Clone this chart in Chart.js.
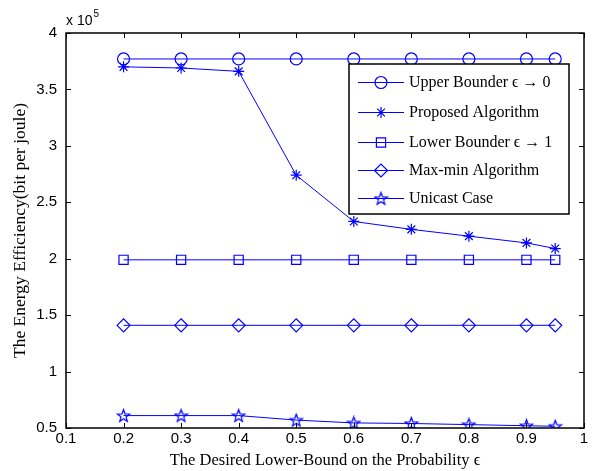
<!DOCTYPE html>
<html>
<head>
<meta charset="utf-8">
<script src="https://cdn.jsdelivr.net/npm/chart.js@4/dist/chart.umd.min.js"></script>
<style>
  html, body { margin: 0; padding: 0; background: #fff; }
  #wrap { width: 593px; height: 471px; }
</style>
</head>
<body>
<div id="wrap"><canvas id="myChart" width="593" height="471"></canvas></div>
<script>
const xValues = [0.2, 0.3, 0.4, 0.5, 0.6, 0.7, 0.8, 0.9, 0.95];
const upperBound = [3.77e5, 3.77e5, 3.77e5, 3.77e5, 3.77e5, 3.77e5, 3.77e5, 3.77e5, 3.77e5];
const proposed = [3.70e5, 3.69e5, 3.66e5, 2.74e5, 2.33e5, 2.26e5, 2.20e5, 2.14e5, 2.09e5];
const lowerBound = [1.99e5, 1.99e5, 1.99e5, 1.99e5, 1.99e5, 1.99e5, 1.99e5, 1.99e5, 1.99e5];
const maxMin = [1.41e5, 1.41e5, 1.41e5, 1.41e5, 1.41e5, 1.41e5, 1.41e5, 1.41e5, 1.41e5];
const unicast = [0.61e5, 0.61e5, 0.61e5, 0.57e5, 0.545e5, 0.54e5, 0.53e5, 0.52e5, 0.515e5];
const seriesNames = ["Upper Bounder \u03f5 \u2192 0", "Proposed Algorithm", "Lower Bounder \u03f5 \u2192 1", "Max-min Algorithm", "Unicast Case"];
const xTicks = [0.1, 0.2, 0.3, 0.4, 0.5, 0.6, 0.7, 0.8, 0.9, 1];
const yTicks = [0.5e5, 1e5, 1.5e5, 2e5, 2.5e5, 3e5, 3.5e5, 4e5];

const blue = "#0000ff";
const serif = "'Liberation Serif', 'DejaVu Serif', serif";
const sans = "'Liberation Sans', Arial, sans-serif";

// pentagram marker (matlab 'p')
function makeStar() {
    const c = document.createElement("canvas");
    c.width = 15; c.height = 15;
    const g = c.getContext("2d");
    g.strokeStyle = blue;
    g.lineWidth = 1.2;
    g.beginPath();
    for (let i = 0; i < 10; i++) {
        const r = i % 2 === 0 ? 6.5 : 2.7;
        const a = -Math.PI / 2 + i * Math.PI / 5;
        const px = 7.5 + r * Math.cos(a), py = 8 + r * Math.sin(a);
        if (i === 0) g.moveTo(px, py); else g.lineTo(px, py);
    }
    g.closePath();
    g.stroke();
    return c;
}
const starImg = makeStar();

const styles = [
    { pointStyle: "circle", radius: 6 },
    { pointStyle: "star", radius: 5.5 },
    { pointStyle: "rect", radius: 6.5 },
    { pointStyle: "rectRot", radius: 6.5 },
    { pointStyle: starImg, radius: 7 }
];
const allData = [upperBound, proposed, lowerBound, maxMin, unicast];

const datasets = allData.map(function (vals, i) {
    return {
        label: seriesNames[i],
        data: xValues.map(function (x, j) { return { x: x, y: vals[j] }; }),
        borderColor: blue,
        backgroundColor: "rgba(0,0,0,0)",
        borderWidth: 1,
        pointStyle: styles[i].pointStyle,
        pointRadius: styles[i].radius,
        pointBorderColor: blue,
        pointBackgroundColor: "rgba(0,0,0,0)",
        pointBorderWidth: 1.2,
        tension: 0
    };
});

// matlab style box, inward ticks, legend, exponent label
const matlabPlugin = {
    id: "matlab",
    afterDraw(chart) {
        const ctx = chart.ctx;
        const a = chart.chartArea;
        const xs = chart.scales.x, ys = chart.scales.y;
        ctx.save();
        ctx.strokeStyle = "#000";
        ctx.lineWidth = 1;
        xTicks.forEach(function (t) {
            const px = Math.round(xs.getPixelForValue(t)) + 0.5;
            ctx.beginPath();
            ctx.moveTo(px, a.bottom); ctx.lineTo(px, a.bottom - 5);
            ctx.moveTo(px, a.top); ctx.lineTo(px, a.top + 5);
            ctx.stroke();
        });
        yTicks.forEach(function (t) {
            const py = Math.round(ys.getPixelForValue(t)) + 0.5;
            ctx.beginPath();
            ctx.moveTo(a.left, py); ctx.lineTo(a.left + 5, py);
            ctx.moveTo(a.right, py); ctx.lineTo(a.right - 5, py);
            ctx.stroke();
        });
        ctx.lineWidth = 1.5;
        ctx.strokeRect(a.left, a.top, a.right - a.left, a.bottom - a.top);

        // exponent
        ctx.fillStyle = "#000";
        ctx.font = "14px " + sans;
        ctx.textBaseline = "alphabetic";
        ctx.textAlign = "left";
        const w = ctx.measureText("x 10").width;
        ctx.fillText("x 10", a.left, a.top - 8);
        ctx.font = "10px " + sans;
        ctx.fillText("5", a.left + w + 1, a.top - 16);

        // legend
        const bx = 349, by = 64, bw = 220, bh = 150;
        ctx.fillStyle = "#fff";
        ctx.fillRect(bx, by, bw, bh);
        ctx.lineWidth = 1.5;
        ctx.strokeStyle = "#000";
        ctx.strokeRect(bx, by, bw, bh);
        const rows = [82, 112, 142, 170, 198];
        chart.data.datasets.forEach(function (ds, i) {
            const y = rows[i];
            ctx.strokeStyle = blue;
            ctx.lineWidth = 1;
            ctx.beginPath();
            ctx.moveTo(358, y + 0.5); ctx.lineTo(404, y + 0.5);
            ctx.stroke();
            ctx.lineWidth = 1.2;
            ctx.fillStyle = "rgba(0,0,0,0)";
            Chart.helpers.drawPoint(ctx, { pointStyle: ds.pointStyle, radius: ds.pointRadius, rotation: 0, borderWidth: 1.2 }, 381, y + 0.5);
            ctx.fillStyle = "#000";
            ctx.font = "16px " + serif;
            ctx.textBaseline = "middle";
            ctx.fillText(ds.label, 409, y + 1);
        });
        ctx.restore();
    }
};

new Chart("myChart", {
    type: "line",
    data: { datasets: datasets },
    options: {
        responsive: false,
        animation: false,
        layout: { padding: { top: 33, right: 9, left: 0, bottom: 0 } },
        plugins: {
            legend: { display: false },
            tooltip: { enabled: false }
        },
        scales: {
            x: {
                type: "linear",
                min: 0.1,
                max: 1,
                grid: { display: false, drawTicks: false },
                border: { display: false },
                afterBuildTicks(scale) { scale.ticks = xTicks.map(function (v) { return { value: v }; }); },
                afterFit(scale) { scale.height = 43; },
                ticks: {
                    color: "#000",
                    font: { family: sans, size: 15 },
                    padding: 2,
                    maxRotation: 0,
                    callback: function (v) { return String(Math.round(v * 10) / 10); }
                },
                title: {
                    display: true,
                    text: "The Desired Lower-Bound on the Probability \u03f5",
                    color: "#000",
                    font: { family: serif, size: 16.5 },
                    padding: { top: 0, bottom: 0 }
                }
            },
            y: {
                type: "linear",
                min: 0.5e5,
                max: 4e5,
                grid: { display: false, drawTicks: false },
                border: { display: false },
                afterBuildTicks(scale) { scale.ticks = yTicks.map(function (v) { return { value: v }; }); },
                afterFit(scale) { scale.width = 66; },
                ticks: {
                    color: "#000",
                    font: { family: sans, size: 15 },
                    padding: 9,
                    callback: function (v) { return String(v / 1e5); }
                },
                title: {
                    display: true,
                    text: "The Energy Efficiency(bit per joule)",
                    color: "#000",
                    font: { family: serif, size: 17.5 },
                    padding: { top: 10, bottom: 0 }
                }
            }
        }
    },
    plugins: [matlabPlugin]
});
</script>
</body>
</html>
